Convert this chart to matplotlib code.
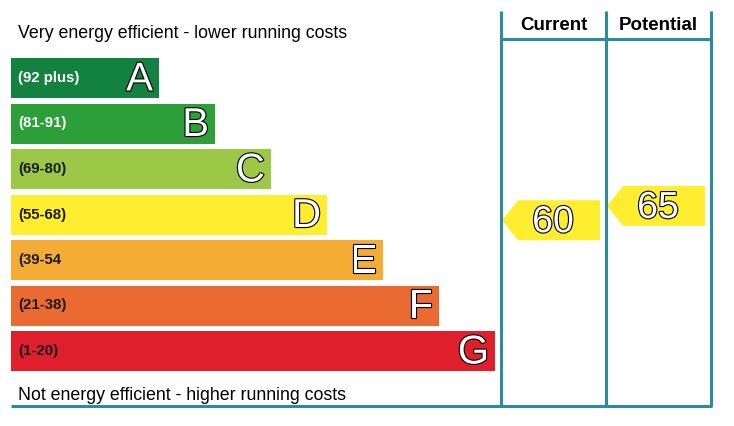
import numpy as np
import matplotlib
matplotlib.use('Agg')
import matplotlib.pyplot as plt
from matplotlib.patches import Rectangle, Polygon
import matplotlib.patheffects as pe

# data =====================================================
bands = ['A', 'B', 'C', 'D', 'E', 'F', 'G']
ranges = ['(92 plus)', '(81-91)', '(69-80)', '(55-68)', '(39-54', '(21-38)', '(1-20)']
lows = [92, 81, 69, 55, 39, 21, 1]
highs = [100, 91, 80, 68, 54, 38, 20]
colors = ['#138240', '#2c9f38', '#9cc848', '#ffed2f', '#f5ac35', '#ea6a32', '#e01f2d']
label_colors = ['white', 'white', '#1a1a1a', '#1a1a1a', '#1a1a1a', '#1a1a1a', '#1a1a1a']
current = 60
potential = 65
top_text = 'Very energy efficient - lower running costs'
bottom_text = 'Not energy efficient - higher running costs'

# layout ===================================================
W, H = 734, 426
line_col = '#2a8ca0'
x0 = 11
bar_h = 40
y_first = 58
step = 45.5
col_x = [501, 606, 711]

fig = plt.figure(figsize=(W / 100, H / 100), dpi=100)
ax = fig.add_axes([0, 0, 1, 1])
ax.set_xlim(0, W)
ax.set_ylim(H, 0)
ax.axis('off')
plt.rcParams['font.family'] = ['Liberation Sans', 'DejaVu Sans']

outline = [pe.withStroke(linewidth=1.6, foreground='black')]

for i, b in enumerate(bands):
    top = y_first + i * step
    right = 159 + 56 * i
    ax.add_patch(Rectangle((x0, top), right - x0, bar_h, color=colors[i], lw=0))
    ax.text(x0 + 7, top + bar_h / 2, ranges[i], fontsize=10.8, fontweight='bold',
            color=label_colors[i], va='center', ha='left')
    ax.text(right - 6, top + bar_h / 2 + 1.5, b, fontsize=29, color='white',
            va='center', ha='right', path_effects=outline)


def score_y(score):
    for i in range(len(bands)):
        if lows[i] <= score <= highs[i]:
            top = y_first + i * step
            frac = (highs[i] - score + 1) / (highs[i] - lows[i] + 1)
            return top + frac * bar_h
    return None


def arrow(x_left, x_right, score):
    yc = score_y(score)
    h = bar_h
    pts = [(x_left, yc), (x_left + 16, yc - h / 2), (x_right, yc - h / 2),
           (x_right, yc + h / 2), (x_left + 16, yc + h / 2)]
    ax.add_patch(Polygon(pts, closed=True, color=colors[3], lw=0))
    ax.text((x_left + x_right) / 2 + 2, yc + 2, str(score), fontsize=27, color='white',
            va='center', ha='center', path_effects=outline)


arrow(col_x[0] + 1, 600, current)
arrow(col_x[1] + 1, 705, potential)

# frame lines
for x in col_x:
    ax.plot([x, x], [11, 406], color=line_col, lw=2.2, solid_capstyle='butt')
ax.plot([col_x[0], col_x[2]], [39, 39], color=line_col, lw=2.2)
ax.plot([x0, col_x[2] + 1], [406, 406], color=line_col, lw=2.2, solid_capstyle='butt')

ax.text((col_x[0] + col_x[1]) / 2, 25.5, 'Current', fontsize=13.5, fontweight='bold',
        ha='center', va='center')
ax.text((col_x[1] + col_x[2]) / 2, 25.5, 'Potential', fontsize=13.5, fontweight='bold',
        ha='center', va='center')
ax.text(18, 34, top_text, fontsize=12.8, ha='left', va='center')
ax.text(18, 395, bottom_text, fontsize=12.8, ha='left', va='center')

fig.savefig('out.png', dpi=100)
